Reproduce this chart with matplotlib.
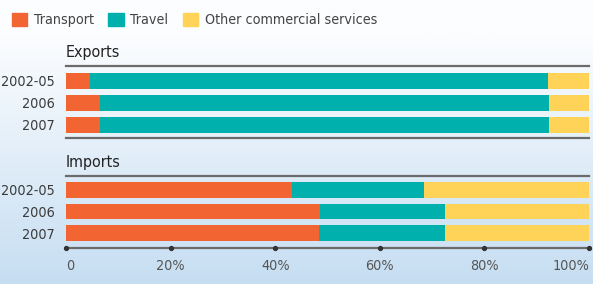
import numpy as np
import matplotlib.pyplot as plt

years = ["2002-05", "2006", "2007"]
series = ["Transport", "Travel", "Other commercial services"]
colors = ["#f26532", "#00b0ad", "#fed357"]
exp_transport = [4.6, 6.5, 6.5]
exp_travel = [87.6, 85.9, 85.9]
exp_other = [7.8, 7.6, 7.6]
imp_transport = [43.2, 48.6, 48.4]
imp_travel = [25.3, 23.9, 24.1]
imp_other = [31.5, 27.5, 27.5]
xticks = [0, 20, 40, 60, 80, 100]
xlabels = ["0", "20%", "40%", "60%", "80%", "100%"]

plt.rcParams['font.family'] = ['DejaVu Sans']
plt.rcParams['font.stretch'] = 'condensed'
W, H = 593, 284
fig = plt.figure(figsize=(W/100, H/100), dpi=100)

# background gradient
bg = fig.add_axes([0, 0, 1, 1], zorder=-5)
g = np.linspace(0, 1, 256).reshape(-1, 1)
top = np.array([252, 253, 255]) / 255
bot = np.array([198, 222, 242]) / 255
t = np.clip((g - 0.12) / 0.88, 0, 1)
img = (top + (bot - top) * t[..., None]).reshape(256, 1, 3)
bg.imshow(img, aspect='auto', extent=[0, 1, 0, 1], origin='upper')
bg.axis('off')

txt = "#3a3a3a"

def ax_at(x0, y0, x1, y1):
    return fig.add_axes([x0/W, 1 - y1/H, (x1 - x0)/W, (y1 - y0)/H])

def panel(ax, parts, ylim):
    y = np.arange(len(years))
    left = np.zeros(len(years))
    for vals, c in zip(parts, colors):
        ax.barh(y, vals, left=left, height=0.73, color=c, linewidth=0)
        left = left + np.array(vals)
    ax.set_xlim(0, 100)
    ax.set_ylim(*ylim)
    ax.set_yticks(y)
    ax.set_yticklabels(years, fontsize=10.3, color=txt)
    ax.tick_params(axis='y', length=0, pad=8)
    ax.patch.set_alpha(0)
    for s in ['left', 'right']:
        ax.spines[s].set_visible(False)
    for s in ['top', 'bottom']:
        ax.spines[s].set_color("#6b6b6b")
        ax.spines[s].set_linewidth(1.6)

ax1 = ax_at(66, 66, 589, 138)
panel(ax1, [exp_transport, exp_travel, exp_other], (2.6, -0.68))
ax1.set_xticks([])
ax1.text(0, -0.95, "Exports", fontsize=11.5, color="#222222", va='bottom', ha='left')

ax2 = ax_at(66, 176, 589, 248)
panel(ax2, [imp_transport, imp_travel, imp_other], (2.68, -0.64))
ax2.set_xticks(xticks)
ax2.set_xticklabels(xlabels, fontsize=10.3, color="#555555")
ax2.tick_params(axis='x', length=0, pad=8)
ax2.get_xticklabels()[0].set_ha('left')
ax2.get_xticklabels()[-1].set_ha('right')
ax2.plot(xticks, [2.68] * len(xticks), 'o', ms=2.8, color="#333333", clip_on=False, zorder=5)
ax2.text(0, -0.9, "Imports", fontsize=11.5, color="#222222", va='bottom', ha='left')

# legend
handles = [plt.Rectangle((0, 0), 1, 1, color=c) for c in colors]
fig.legend(handles, series, loc='upper left', bbox_to_anchor=(6/W, 1 - 7/H), ncol=3,
           frameon=False, fontsize=10.3, handlelength=1.1, handleheight=1.1,
           handletextpad=0.45, columnspacing=1.0, borderaxespad=0, labelcolor="#444444")

fig.savefig("out.png", dpi=100)
